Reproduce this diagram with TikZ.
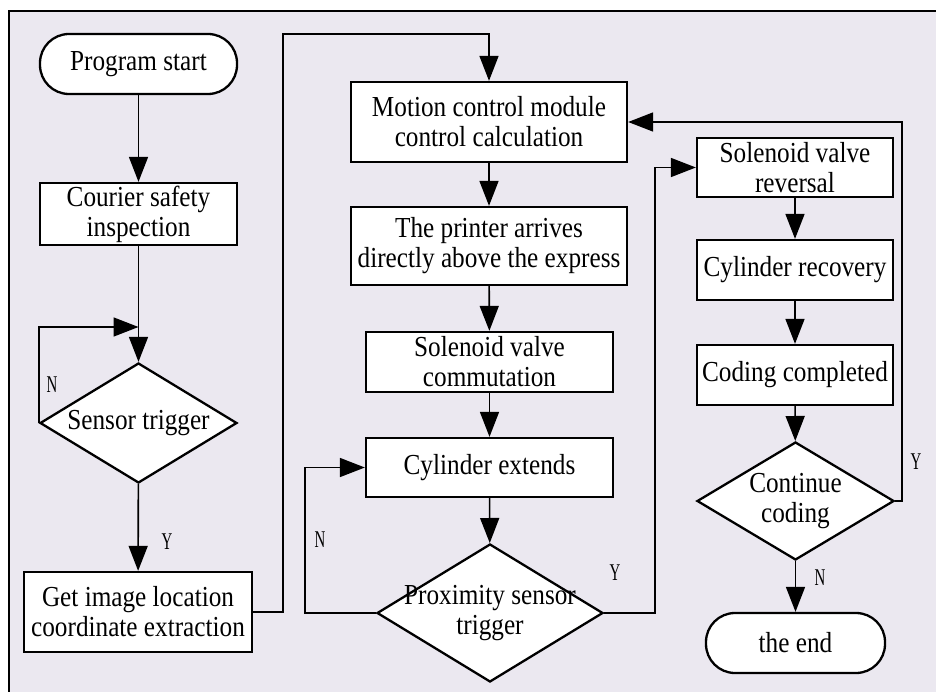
\documentclass[tikz,border=0pt]{standalone}
\usepackage{fontspec}
\setmainfont{Liberation Serif}[FakeStretch=0.87]
\newfontfamily\narrowfont{Liberation Serif}[FakeStretch=0.62]
\usetikzlibrary{arrows.meta,shapes.geometric}
\definecolor{bgc}{RGB}{235,232,240}
\begin{document}
\begin{tikzpicture}[x=1pt,y=-1pt,
  every node/.style={font=\fontsize{29}{30}\selectfont, align=center, inner sep=0pt},
  box/.style={draw, line width=2.3pt, fill=white, rectangle},
  term/.style={draw, line width=2.3pt, fill=white, rectangle, rounded corners=29pt},
  dia/.style={draw, line width=2.3pt, fill=white, diamond},
  arr/.style={line width=1.6pt, -{Triangle[length=25pt,width=19pt]}},
  yn/.style={font=\narrowfont\fontsize{24}{24}\selectfont}]
\useasboundingbox (0,0) rectangle (936,692);
\fill[bgc] (9,11) rectangle (936,692);
\draw[line width=2pt] (9,692) -- (9,11) -- (936,11);

% left column
\node[term, minimum width=197pt, minimum height=60pt] (start) at (138.5,64) {Program start};
\node[box, minimum width=197pt, minimum height=62pt] (cour) at (138.5,214) {Courier safety\\inspection};
\node[dia, minimum width=197pt, minimum height=120pt] (sens) at (138.5,423) {};
\node at (sens) {Sensor trigger};
\node[box, minimum width=228pt, minimum height=80pt] (gimg) at (138,612) {Get image location\\coordinate extraction};

% middle column
\node[box, minimum width=276pt, minimum height=80pt] (mot) at (489,122) {Motion control module\\control calculation};
\node[box, minimum width=276pt, minimum height=78pt] (prn) at (489,246) {The printer arrives\\directly above the express};
\node[box, minimum width=247pt, minimum height=60pt] (scom) at (489.5,362) {Solenoid valve\\commutation};
\node[box, minimum width=247pt, minimum height=59pt] (cext) at (489.5,467.5) {Cylinder extends};
\node[dia, minimum width=226pt, minimum height=138pt] (prox) at (490,613) {};
\node at (prox) {Proximity sensor\\trigger};

% right column
\node[box, minimum width=196pt, minimum height=59pt] (srev) at (795,167.5) {Solenoid valve\\reversal};
\node[box, minimum width=196pt, minimum height=60pt] (crec) at (795,270) {Cylinder recovery};
\node[box, minimum width=196pt, minimum height=60pt] (ccomp) at (795,375) {Coding completed};
\node[dia, minimum width=197pt, minimum height=118pt] (cont) at (795.5,501) {};
\node at (cont) {Continue\\coding};
\node[term, minimum width=179pt, minimum height=60pt] (endn) at (795.5,643) {the end};

% junction coordinates
\coordinate (j1) at (138.5,327);
\coordinate (j2) at (283,34);
\coordinate (j3) at (305,467.5);
\coordinate (j4) at (655,167.5);
\coordinate (j5) at (902,122);

% connectors
\draw[arr] (start) -- (cour);
\draw[arr] (cour) -- (sens);
\draw[arr] (sens.west) |- (j1);
\draw[arr] (sens) -- (gimg);
\draw[arr] (gimg.east) -| (j2) -| (mot.north);
\draw[arr] (mot) -- (prn);
\draw[arr] (prn) -- (scom);
\draw[arr] (scom) -- (cext);
\draw[arr] (cext) -- (prox);
\draw[arr] (prox.west) -| (j3) -- (cext.west);
\draw[arr] (prox.east) -| (j4) -- (srev.west);
\draw[arr] (srev) -- (crec);
\draw[arr] (crec) -- (ccomp);
\draw[arr] (ccomp) -- (cont);
\draw[arr] (cont.east) -| (j5) -- (mot.east);
\draw[arr] (cont) -- (endn);

% labels
\node[yn] (ln1) at (52,385) {N};
\node[yn] (ly1) at (167,542) {Y};
\node[yn] (ln2) at (320,540) {N};
\node[yn] (ly2) at (615,573) {Y};
\node[yn] (ly3) at (916,462) {Y};
\node[yn] (ln3) at (820,578) {N};
\end{tikzpicture}
\end{document}
